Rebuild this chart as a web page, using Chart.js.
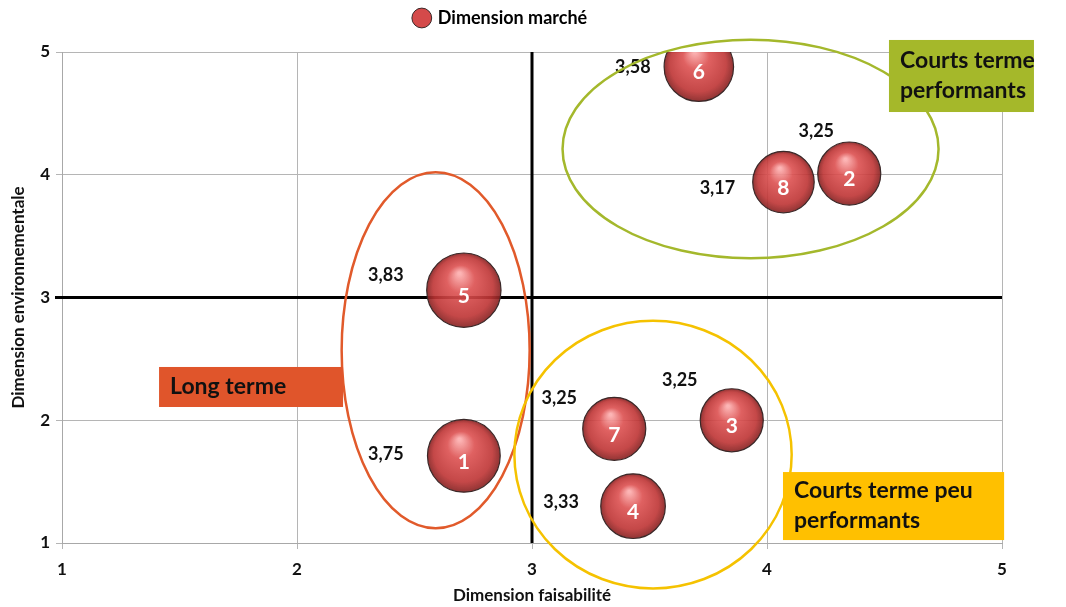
<!DOCTYPE html>
<html lang="fr">
<head>
  <meta charset="UTF-8">
  <title>Dimension marché</title>
  <script src="https://cdn.jsdelivr.net/npm/chart.js"></script>
  <style>
    body { margin: 0; background: #ffffff; }
    .wrap { width: 1066px; height: 607px; position: relative; }
  </style>
</head>
<body>
  <div class="wrap"><canvas id="graphique"></canvas></div>

  <script>
    // Données
    const projets = ["1", "2", "3", "4", "5", "6", "7", "8"];
    const faisabilite = [2.71, 4.35, 3.85, 3.43, 2.71, 3.71, 3.35, 4.07];
    const environnement = [1.71, 4.01, 2.00, 1.30, 3.06, 4.88, 1.93, 3.94];
    const marche = [3.75, 3.25, 3.25, 3.33, 3.83, 3.58, 3.25, 3.17];
    const graduations = [1, 2, 3, 4, 5];

    // Décalage des étiquettes de valeur (px) par rapport au centre de la bulle
    const decalages = [[-78, -2], [-33, -42], [-52, -40], [-72, -4], [-78, -15], [-66, 0], [-55, -31], [-66, 6]];

    // Zones (en unités des axes)
    const ellipses = [
      { cx: 2.59, cy: 2.57, rx: 0.40, ry: 1.45, color: "#e15a2b" },
      { cx: 3.93, cy: 4.21, rx: 0.80, ry: 0.89, color: "#a4b82c" },
      { cx: 3.515, cy: 1.72, rx: 0.59, ry: 1.09, color: "#f5c200" }
    ];
    const cadres = [
      { x1: 1.413, x2: 2.196, y1: 2.434, y2: 2.108, color: "#e0552b", lignes: ["Long terme"] },
      { x1: 4.519, x2: 5.136, y1: 5.098, y2: 4.511, color: "#a5b82a", lignes: ["Courts terme", "performants"] },
      { x1: 4.068, x2: 5.009, y1: 1.578, y2: 1.024, color: "#ffc000", lignes: ["Courts terme peu", "performants"] }
    ];

    const police = "Lato, 'Open Sans', sans-serif";

    function degradeBulle(ctx) {
      if (ctx.type !== "data" || !ctx.raw) return "#c94040";
      const sx = ctx.chart.scales.x, sy = ctx.chart.scales.y;
      if (!sx || !sy) return "#c94040";
      const x = sx.getPixelForValue(ctx.raw.x), y = sy.getPixelForValue(ctx.raw.y), r = ctx.raw.r;
      if (!isFinite(x) || !isFinite(y) || !isFinite(r)) return "#c94040";
      const g = ctx.chart.ctx.createRadialGradient(x - r * 0.12, y - r * 0.45, r * 0.04, x, y, r);
      g.addColorStop(0, "rgba(252,175,175,0.93)");
      g.addColorStop(0.35, "rgba(220,80,80,0.9)");
      g.addColorStop(0.8, "rgba(190,52,52,0.9)");
      g.addColorStop(1, "rgba(135,35,35,0.92)");
      return g;
    }

    const zones = {
      id: "zones",
      beforeLayout(chart) {
        const lg = chart.legend;
        if (lg && !lg._patched) {
          const fit = lg.fit;
          lg.fit = function () { fit.call(this); this.height = 47; };
          lg._patched = true;
        }
      },
      beforeDatasetsDraw(chart) {
        const { ctx, chartArea: a, scales: { x, y } } = chart;
        ctx.save();
        ctx.strokeStyle = "#000";
        ctx.lineWidth = 3;
        ctx.beginPath();
        ctx.moveTo(x.getPixelForValue(3), a.top);
        ctx.lineTo(x.getPixelForValue(3), a.bottom);
        ctx.moveTo(a.left - 7, y.getPixelForValue(3));
        ctx.lineTo(a.right, y.getPixelForValue(3));
        ctx.stroke();
        ctx.restore();
      },
      afterDatasetsDraw(chart) {
        const { ctx, scales: { x, y } } = chart;
        const meta = chart.getDatasetMeta(0);
        ctx.save();
        // numéros et valeurs
        ctx.textAlign = "center";
        ctx.textBaseline = "middle";
        meta.data.forEach((pt, i) => {
          ctx.fillStyle = "#ffffff";
          ctx.font = "bold 21px " + police;
          ctx.fillText(projets[i], pt.x, pt.y + 6);
          ctx.fillStyle = "#111";
          ctx.font = "bold 18px " + police;
          ctx.fillText(marche[i].toFixed(2).replace(".", ","), pt.x + decalages[i][0], pt.y + decalages[i][1]);
        });
        // ellipses
        ctx.lineWidth = 2.5;
        ellipses.forEach(e => {
          const cx = x.getPixelForValue(e.cx), cy = y.getPixelForValue(e.cy);
          const rx = x.getPixelForValue(e.cx + e.rx) - cx;
          const ry = cy - y.getPixelForValue(e.cy + e.ry);
          ctx.strokeStyle = e.color;
          ctx.beginPath();
          ctx.ellipse(cx, cy, rx, ry, 0, 0, Math.PI * 2);
          ctx.stroke();
        });
        // cadres
        ctx.textAlign = "left";
        cadres.forEach(c => {
          const l = x.getPixelForValue(c.x1), r = x.getPixelForValue(c.x2);
          const t = y.getPixelForValue(c.y1), b = y.getPixelForValue(c.y2);
          ctx.fillStyle = c.color;
          ctx.fillRect(l, t, r - l, b - t);
          ctx.fillStyle = "#111";
          ctx.font = "bold 23px " + police;
          const h = 30;
          const y0 = (t + b) / 2 - (c.lignes.length - 1) * h / 2;
          c.lignes.forEach((txt, k) => ctx.fillText(txt, l + 11, y0 + k * h));
        });
        ctx.restore();
      }
    };

    new Chart(document.getElementById("graphique"), {
      type: "bubble",
      data: {
        datasets: [{
          label: "Dimension marché",
          data: projets.map((p, i) => ({ x: faisabilite[i], y: environnement[i], r: marche[i] * 9.7 })),
          backgroundColor: degradeBulle,
          borderColor: "#3a2828",
          borderWidth: 1.2,
          clip: 0
        }]
      },
      options: {
        responsive: true,
        maintainAspectRatio: false,
        animation: false,
        events: [],
        layout: { padding: { top: 5, right: 64, left: 0, bottom: 0 } },
        scales: {
          x: {
            type: "linear",
            min: 1, max: 5,
            afterFit: s => { s.height = 64; },
            afterBuildTicks: s => { s.ticks = graduations.map(v => ({ value: v })); },
            grid: { color: "#b5b5b5", tickLength: 6 },
            border: { color: "#a8a8a8" },
            ticks: { padding: 10, color: "#111", font: { family: police, size: 17, weight: "bold" } },
            title: { display: true, text: "Dimension faisabilité", color: "#111", padding: { top: 0, bottom: 1 }, font: { family: police, size: 17, weight: "bold" } }
          },
          y: {
            type: "linear",
            min: 1, max: 5,
            afterFit: s => { s.width = 62; },
            afterBuildTicks: s => { s.ticks = graduations.map(v => ({ value: v })); },
            grid: { color: "#b5b5b5", tickLength: 6 },
            border: { color: "#a8a8a8" },
            ticks: { padding: 6, color: "#111", font: { family: police, size: 17, weight: "bold" } },
            title: { display: true, text: "Dimension environnementale", color: "#111", padding: { top: 8, bottom: 0 }, font: { family: police, size: 17, weight: "bold" } }
          }
        },
        plugins: {
          legend: {
            position: "top",
            labels: {
              usePointStyle: true,
              pointStyle: "circle",
              boxWidth: 14,
              boxHeight: 14,
              padding: 4,
              color: "#111",
              font: { family: police, size: 18, weight: "bold" },
              generateLabels: chart => [{
                text: "Dimension marché",
                fillStyle: "#d44a4a",
                strokeStyle: "#3a2828",
                lineWidth: 1,
                pointStyle: "circle",
                datasetIndex: 0,
                hidden: false
              }]
            }
          },
          tooltip: { enabled: false }
        }
      },
      plugins: [zones]
    });
  </script>
</body>
</html>
